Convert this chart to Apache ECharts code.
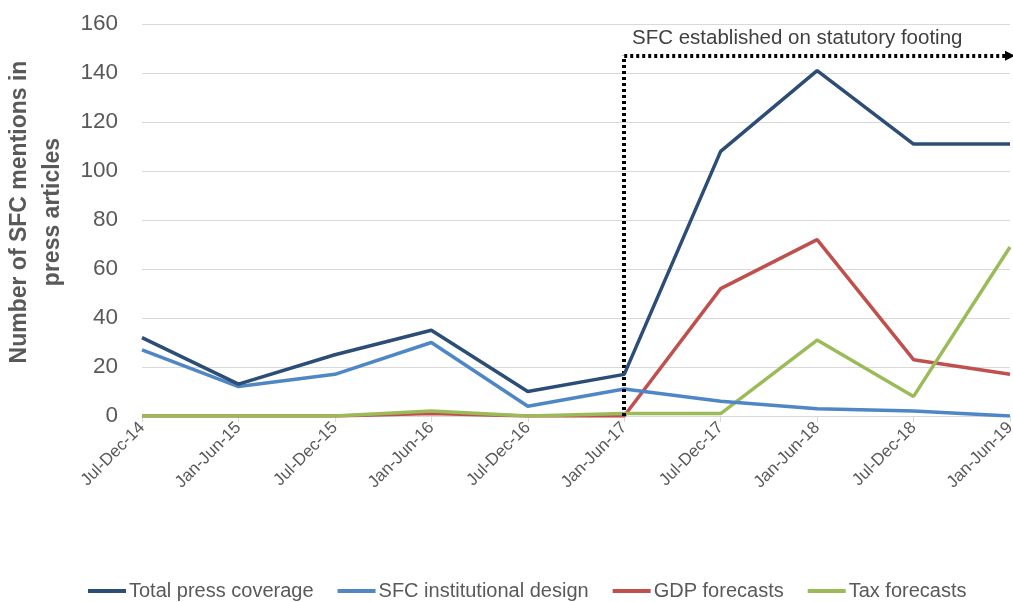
<!DOCTYPE html>
<html><head><meta charset="utf-8">
<script src="https://cdn.jsdelivr.net/npm/echarts@6/dist/echarts.min.js"></script>
<style>html,body{margin:0;padding:0;background:#fff}#c{width:1013px;height:602px}</style>
</head><body><div id="c"></div>
<script>
const categories = ['Jul-Dec-14','Jan-Jun-15','Jul-Dec-15','Jan-Jun-16','Jul-Dec-16','Jan-Jun-17','Jul-Dec-17','Jan-Jun-18','Jul-Dec-18','Jan-Jun-19'];
const totalPress = [32,13,25,35,10,17,108,141,111,111];
const sfcDesign = [27,12,17,30,4,11,6,3,2,0];
const gdpForecasts = [0,0,0,1,0,0,52,72,23,17];
const taxForecasts = [0,0,0,2,0,1,1,31,8,69];
const annotationText = 'SFC established on statutory footing';
const annotationStart = 'Jan-Jun-17';
const annotationLevel = 147;

const FONT = 'Liberation Sans, Arial, sans-serif';
const GRAY = '#595959';
const chart = echarts.init(document.getElementById('c'), null, {renderer:'canvas'});
const lineSeries = (name, data, color, z) => ({
  name, type:'line', data, symbol:'none', z,
  lineStyle:{color, width:3.5}, itemStyle:{color}
});
const totalS = lineSeries('Total press coverage', totalPress, '#2C4D75', 5);
totalS.markLine = {
  silent:true, symbol:'none', animation:false,
  lineStyle:{color:'#000', width:4, type:[3,3]},
  label:{show:false},
  data:[
    [{coord:[annotationStart,0]},{coord:[annotationStart,annotationLevel]}],
    [{coord:[annotationStart,annotationLevel], symbol:'none'},{coord:[categories[categories.length-1],annotationLevel], symbol:'triangle', symbolSize:[10,10], symbolRotate:-90}]
  ]
};
chart.setOption({
  animation:false,
  textStyle:{fontFamily:FONT},
  grid:{left:142, right:3, top:24, bottom:186, containLabel:false, outerBoundsMode:'none'},
  xAxis:{type:'category', data:categories, boundaryGap:false,
    axisLine:{lineStyle:{color:'#D9D9D9', width:1}},
    axisTick:{show:true, length:6, lineStyle:{color:'#D9D9D9'}, alignWithLabel:true},
    axisLabel:{rotate:45, color:GRAY, fontSize:17, fontFamily:FONT, margin:9, interval:0}},
  yAxis:{type:'value', min:0, max:160, interval:20,
    name:'Number of SFC mentions in\npress articles', nameLocation:'middle', nameRotate:90, nameGap:49,
    nameTextStyle:{color:GRAY, fontSize:23, fontWeight:'bold', fontFamily:FONT, lineHeight:33, padding:[0,0,0,16]},
    axisLine:{show:false}, axisTick:{show:false},
    splitLine:{lineStyle:{color:'#D9D9D9', width:1}},
    axisLabel:{color:GRAY, fontSize:22.5, fontFamily:FONT, margin:24}},
  legend:{bottom:-4, left:83, itemWidth:38, itemHeight:4, itemGap:24, icon:'rect',
    textStyle:{color:GRAY, fontSize:20, fontFamily:FONT, padding:[0,0,0,-2]},
    data:['Total press coverage','SFC institutional design','GDP forecasts','Tax forecasts']},
  graphic:[{type:'text', left:632, top:28, style:{text:annotationText, fill:'#404040', font:'20.5px '+FONT}}],
  series:[
    totalS,
    lineSeries('SFC institutional design', sfcDesign, '#4F86C6', 4),
    lineSeries('GDP forecasts', gdpForecasts, '#C0504D', 3),
    lineSeries('Tax forecasts', taxForecasts, '#9BBB59', 3.5)
  ]
});
</script></body></html>
